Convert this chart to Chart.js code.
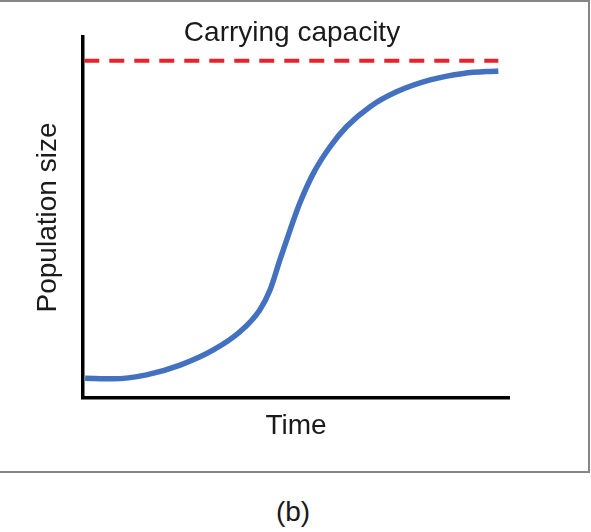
<!DOCTYPE html>
<html>
<head>
<meta charset="utf-8">
<script src="https://cdn.jsdelivr.net/npm/chart.js@4.4.1/dist/chart.umd.min.js"></script>
<style>
    body { margin: 0; background: #fff; font-family: "Liberation Sans", Arial, sans-serif; }
    #frame {
        position: absolute; left: -4px; top: 0; width: 590px; height: 469px;
        border: 2px solid #858585; pointer-events: none;
    }
    #wrap { position: absolute; left: 0; top: 0; width: 591px; height: 470px; }
    #caption {
        position: absolute; left: 0; top: 496px; width: 586px; text-align: center;
        font-size: 28px; color: #1a1a1a;
    }
</style>
</head>
<body>
<div id="wrap"><canvas id="logisticChart"></canvas></div>
<div id="frame"></div>
<div id="caption">(b)</div>
<script>
// Values (axes run 0..100, no ticks shown)
const timeValues = [0.5, 7.1, 14.9, 22.8, 30.6, 36.9, 41.5, 43.9, 46.2, 48.6, 50.9, 54.1, 58.0, 61.9, 67.4, 73.6, 81.5, 89.3, 97.5];
const populationValues = [5.5, 5.3, 6.4, 9.1, 13.3, 18.4, 24.4, 29.9, 38.2, 46.5, 54.0, 62.3, 69.6, 75.2, 80.7, 84.8, 88.1, 89.9, 90.6];
const capacityTimes = [0.3, 97.5];
const capacityValue = 93.4;

const populationPoints = timeValues.map((t, i) => ({ x: t, y: populationValues[i] }));
const capacityPoints = capacityTimes.map(t => ({ x: t, y: capacityValue }));

const textFont = { family: '"Liberation Sans", Arial, sans-serif', size: 28, weight: 'normal', lineHeight: 1.2 };

const ctx = document.getElementById('logisticChart').getContext('2d');

const logisticChart = new Chart(ctx, {
    type: 'line',
    data: {
        datasets: [{
            label: 'Carrying capacity',
            data: capacityPoints,
            borderColor: '#e8212a',
            borderWidth: 4,
            borderDash: [15, 10],
            pointRadius: 0,
            fill: false
        }, {
            label: 'Population size',
            data: populationPoints,
            borderColor: '#4470c0',
            borderWidth: 5.5,
            cubicInterpolationMode: 'monotone',
            pointRadius: 0,
            fill: false
        }]
    },
    options: {
        responsive: true,
        maintainAspectRatio: false,
        animation: false,
        layout: { padding: { left: 0, top: 0, bottom: 0, right: 7 } },
        plugins: {
            legend: { display: false },
            tooltip: { enabled: false },
            title: {
                display: true,
                text: 'Carrying capacity',
                color: '#1a1a1a',
                font: textFont,
                padding: { top: 16, bottom: -12.6 }
            }
        },
        scales: {
            x: {
                type: 'linear',
                min: 0,
                max: 100,
                grid: { display: false, drawTicks: false },
                ticks: { display: false },
                border: { display: true, color: '#000', width: 3.5 },
                title: { display: true, text: 'Time', color: '#1a1a1a', font: textFont, padding: { top: 0, bottom: 26.9 } },
                afterFit: scale => { scale.height = 72; }
            },
            y: {
                type: 'linear',
                min: 0,
                max: 100,
                grid: { display: false, drawTicks: false },
                ticks: { display: false },
                border: { display: true, color: '#000', width: 3.5 },
                title: { display: true, text: 'Population size', color: '#1a1a1a', font: textFont, padding: { top: 31.2, bottom: 0 } },
                afterFit: scale => { scale.width = 83; }
            },
            // empty right-hand scale, only keeps white space on the right
            spacer: {
                type: 'linear',
                position: 'right',
                grid: { display: false, drawTicks: false },
                ticks: { display: false },
                border: { display: false },
                afterFit: scale => { scale.width = 75; }
            }
        }
    }
});
</script>
</body>
</html>
